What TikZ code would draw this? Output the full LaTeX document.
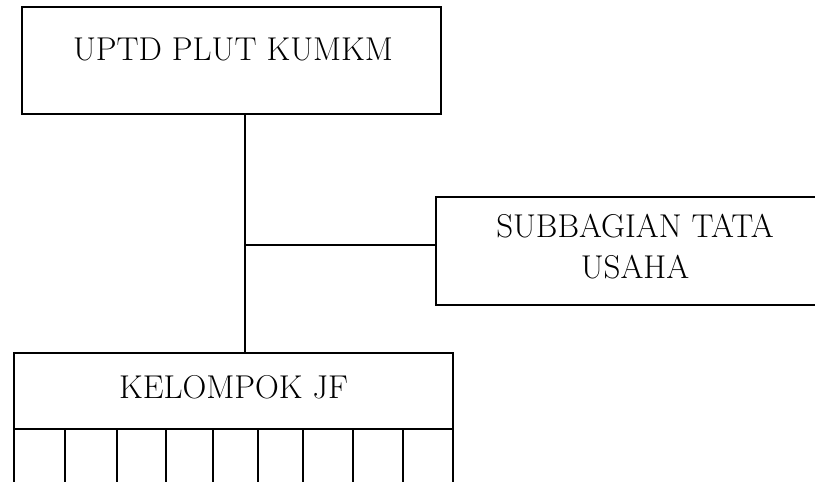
\documentclass[tikz,border=0pt]{standalone}
\usepackage{fontspec}
\setmainfont{Latin Modern Roman}
\begin{document}
\begin{tikzpicture}[x=1pt,y=-1pt,
  box/.style={draw,line width=1.5pt,inner sep=0pt,outer sep=0pt},
  lbl/.style={anchor=base,inner sep=0pt,font=\fontsize{33}{41}\selectfont,align=center},
  conn/.style={line width=1.5pt}]
\useasboundingbox (0,0) rectangle (815,482);
\clip (0,0) rectangle (815,482);
\node[box,minimum width=419pt,minimum height=107pt] (top) at (231.5,60.5) {};
\node[lbl] (toptext) at (233,60) {UPTD PLUT KUMKM};
\node[box,minimum width=398pt,minimum height=108pt] (sub) at (635,251) {};
\node[lbl] (subtext) at (635,278) {SUBBAGIAN TATA\\USAHA};
\node[box,minimum width=439pt,minimum height=200pt] (jf) at (233.5,453) {};
\node[lbl] (jftext) at (233.5,398) {KELOMPOK JF};
\coordinate (jfl) at (14,429);
\coordinate (jfr) at (453,429);
\draw[conn] (jfl) -- (jfr);
\foreach \xx in {65,117,166,213,258,303,353,403}
  \draw[conn] (\xx,429) -- (\xx,490);
\coordinate (tb) at (245,114);
\coordinate (jt) at (245,353);
\coordinate (mid) at (245,245);
\draw[conn] (tb) -- (jt);
\draw[conn] (mid) -- (mid -| sub.west);
\end{tikzpicture}
\end{document}
